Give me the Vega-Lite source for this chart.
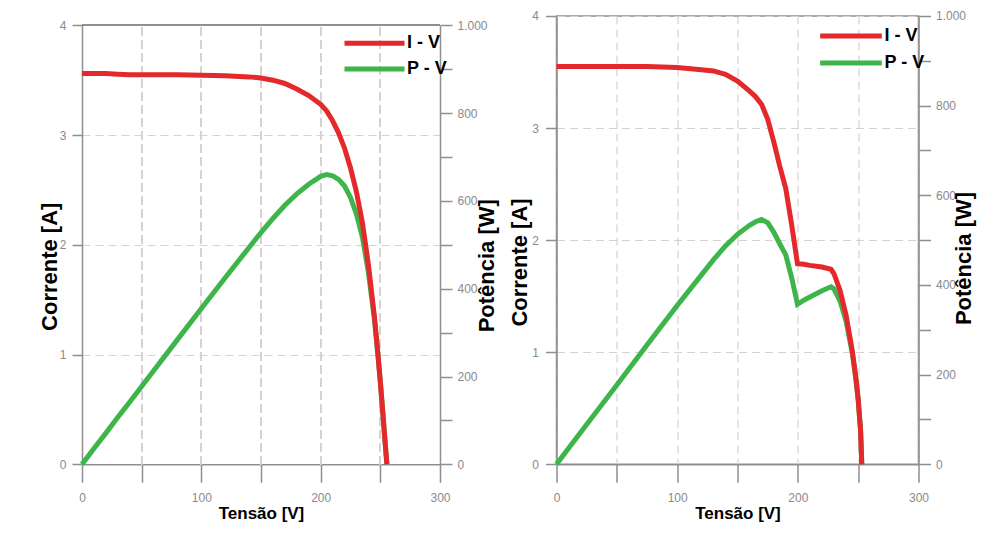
{
  "$schema": "https://vega.github.io/schema/vega-lite/v6.json",
  "background": "white",
  "padding": {"left": 38, "top": 9, "right": 5, "bottom": 0},
  "spacing": 9.5,
  "config": {
    "view": {"stroke": "#8f8f8f", "strokeWidth": 1.5},
    "axis": {
      "domainColor": "#8f8f8f", "domainWidth": 1.5,
      "tickColor": "#8f8f8f", "tickWidth": 1.5,
      "labelFont": "Liberation Sans, Arial, sans-serif",
      "labelFontSize": 12, "labelColor": "#8a8a8a",
      "labelFlush": false, "labelOverlap": false,
      "titleColor": "black", "titleFontWeight": "bold",
      "gridColor": "#d9d0d0", "gridDash": [8, 5], "gridWidth": 1.2
    }
  },
  "resolve": {"scale": {"color": "independent"}, "legend": {"color": "independent"}},
  "datasets": {
    "left": [
      {"V": 0, "I": 3.56, "P": 0},
      {"V": 10, "I": 3.56, "P": 36},
      {"V": 20, "I": 3.56, "P": 71},
      {"V": 30, "I": 3.555, "P": 107},
      {"V": 40, "I": 3.55, "P": 142},
      {"V": 60, "I": 3.55, "P": 213},
      {"V": 80, "I": 3.55, "P": 284},
      {"V": 100, "I": 3.545, "P": 355},
      {"V": 120, "I": 3.54, "P": 425},
      {"V": 140, "I": 3.53, "P": 494},
      {"V": 150, "I": 3.52, "P": 528},
      {"V": 160, "I": 3.5, "P": 560},
      {"V": 170, "I": 3.47, "P": 590},
      {"V": 180, "I": 3.42, "P": 616},
      {"V": 190, "I": 3.36, "P": 638},
      {"V": 200, "I": 3.28, "P": 656},
      {"V": 205, "I": 3.22, "P": 660},
      {"V": 210, "I": 3.13, "P": 657},
      {"V": 215, "I": 3.02, "P": 649},
      {"V": 220, "I": 2.88, "P": 634},
      {"V": 225, "I": 2.7, "P": 608},
      {"V": 230, "I": 2.48, "P": 570},
      {"V": 235, "I": 2.2, "P": 517},
      {"V": 240, "I": 1.82, "P": 437},
      {"V": 245, "I": 1.35, "P": 331},
      {"V": 248, "I": 1.0, "P": 248},
      {"V": 250, "I": 0.75, "P": 188},
      {"V": 252, "I": 0.48, "P": 121},
      {"V": 254, "I": 0.2, "P": 51},
      {"V": 255.5, "I": 0, "P": 0}
    ],
    "right": [
      {"V": 0, "I": 3.55, "P": 0},
      {"V": 10, "I": 3.55, "P": 36},
      {"V": 25, "I": 3.55, "P": 89},
      {"V": 50, "I": 3.55, "P": 177},
      {"V": 75, "I": 3.55, "P": 266},
      {"V": 100, "I": 3.54, "P": 354},
      {"V": 120, "I": 3.52, "P": 422},
      {"V": 130, "I": 3.51, "P": 456},
      {"V": 140, "I": 3.48, "P": 487},
      {"V": 150, "I": 3.42, "P": 513},
      {"V": 160, "I": 3.33, "P": 533},
      {"V": 165, "I": 3.28, "P": 541},
      {"V": 170, "I": 3.21, "P": 546},
      {"V": 175, "I": 3.08, "P": 539},
      {"V": 180, "I": 2.88, "P": 518},
      {"V": 185, "I": 2.66, "P": 492},
      {"V": 190, "I": 2.46, "P": 467},
      {"V": 195, "I": 2.13, "P": 415},
      {"V": 199.7, "I": 1.79, "P": 357},
      {"V": 205, "I": 1.785, "P": 366},
      {"V": 210, "I": 1.775, "P": 373},
      {"V": 220, "I": 1.76, "P": 387},
      {"V": 227.5, "I": 1.74, "P": 396},
      {"V": 230, "I": 1.7, "P": 391},
      {"V": 235, "I": 1.55, "P": 364},
      {"V": 240, "I": 1.33, "P": 319},
      {"V": 245, "I": 1.02, "P": 250},
      {"V": 248, "I": 0.78, "P": 193},
      {"V": 250, "I": 0.58, "P": 145},
      {"V": 252, "I": 0.3, "P": 76},
      {"V": 253, "I": 0, "P": 0}
    ]
  },
  "hconcat": [
    {
      "width": 358, "height": 448.3,
      "view": {"stroke": null},
      "data": {"name": "left"},
      "layer": [
        {"mark": {"type": "rule", "color": "#d9d0d0", "strokeDash": [8, 5], "strokeWidth": 1.2},
         "encoding": {"x": {"datum": 50, "type": "quantitative", "scale": {"domain": [0, 300]}},
           "y": {"datum": 0, "type": "quantitative", "scale": {"domain": [0, 4], "range": [448.3, 9.3]}, "axis": null}, "y2": {"datum": 4}}},
        {"mark": {"type": "rule", "color": "#d9d0d0", "strokeDash": [8, 5], "strokeWidth": 1.2},
         "encoding": {"x": {"datum": 100, "type": "quantitative"},
           "y": {"datum": 0, "type": "quantitative", "scale": {"domain": [0, 4], "range": [448.3, 9.3]}, "axis": null}, "y2": {"datum": 4}}},
        {"mark": {"type": "rule", "color": "#d9d0d0", "strokeDash": [8, 5], "strokeWidth": 1.2},
         "encoding": {"x": {"datum": 150, "type": "quantitative"},
           "y": {"datum": 0, "type": "quantitative", "scale": {"domain": [0, 4], "range": [448.3, 9.3]}, "axis": null}, "y2": {"datum": 4}}},
        {"mark": {"type": "rule", "color": "#d9d0d0", "strokeDash": [8, 5], "strokeWidth": 1.2},
         "encoding": {"x": {"datum": 200, "type": "quantitative"},
           "y": {"datum": 0, "type": "quantitative", "scale": {"domain": [0, 4], "range": [448.3, 9.3]}, "axis": null}, "y2": {"datum": 4}}},
        {"mark": {"type": "rule", "color": "#d9d0d0", "strokeDash": [8, 5], "strokeWidth": 1.2},
         "encoding": {"x": {"datum": 250, "type": "quantitative"},
           "y": {"datum": 0, "type": "quantitative", "scale": {"domain": [0, 4], "range": [448.3, 9.3]}, "axis": null}, "y2": {"datum": 4}}},
        {"mark": {"type": "rule", "color": "#8f8f8f", "strokeWidth": 1.5},
         "encoding": {"x": {"datum": 0, "type": "quantitative"}, "x2": {"datum": 300},
           "y": {"datum": 4, "type": "quantitative", "scale": {"domain": [0, 4], "range": [448.3, 9.3]}, "axis": null}}},
        {
          "mark": {"type": "line", "strokeWidth": 5},
          "encoding": {
            "x": {"field": "V", "type": "quantitative",
              "axis": {"title": "Tensão [V]", "values": [0, 50, 100, 150, 200, 250, 300],
                "labelExpr": "datum.value % 100 === 0 ? datum.label : ''",
                "tickSize": 18, "labelPadding": 10, "grid": false,
                "titleFont": "Liberation Sans, Arial, sans-serif", "titleFontSize": 17, "titlePadding": 2}},
            "y": {"field": "P", "type": "quantitative", "scale": {"domain": [0, 1000], "range": [448.3, 9.3]},
              "axis": {"orient": "right", "title": "Potência [W]", "values": [0, 100, 200, 300, 400, 500, 600, 700, 800, 900, 1000],
                "labelExpr": "datum.value === 1000 ? '1.000' : (datum.value % 200 === 0 ? datum.label : '')",
                "tickSize": 12, "labelPadding": 5, "grid": false,
                "titleFont": "Liberation Sans, Arial, sans-serif", "titleFontSize": 22,
                "titleAngle": 270, "titleX": 47, "titleY": 249.3, "titleBaseline": "middle", "titleAlign": "center"}},
            "color": {"datum": "P - V", "type": "nominal",
              "scale": {"domain": ["I - V", "P - V"], "range": ["#e3292b", "#3db54a"]},
              "legend": {"orient": "none", "legendX": 260, "legendY": 18.3, "title": null,
                "symbolType": "stroke", "symbolSize": 3600, "symbolStrokeWidth": 5, "clipHeight": 18,
                "labelFont": "Liberation Sans, Arial, sans-serif", "labelFontWeight": "bold", "labelFontSize": 18,
                "labelColor": "black", "rowPadding": 7.6, "labelOffset": 0, "padding": 0, "symbolOffset": 0}}
          }
        },
        {
          "mark": {"type": "line", "strokeWidth": 5},
          "encoding": {
            "x": {"field": "V", "type": "quantitative"},
            "y": {"field": "I", "type": "quantitative", "scale": {"domain": [0, 4], "range": [448.3, 9.3]},
              "axis": {"orient": "left", "title": "Corrente [A]", "values": [0, 0.5, 1, 1.5, 2, 2.5, 3, 3.5, 4],
                "format": "d",
                "labelExpr": "datum.value % 1 === 0 ? datum.label : ''",
                "tickSize": 10, "labelPadding": 6, "grid": true,
                "titleFont": "Liberation Sans, Arial, sans-serif", "titleFontSize": 22,
                "titleAngle": 270, "titleX": -33, "titleY": 250.3, "titleBaseline": "middle", "titleAlign": "center"}},
            "color": {"datum": "I - V", "type": "nominal"}
          }
        }
      ],
      "resolve": {"scale": {"y": "independent"}}
    },
    {
      "width": 362, "height": 448.3,
      "data": {"name": "right"},
      "layer": [
        {
          "mark": {"type": "line", "strokeWidth": 5},
          "encoding": {
            "x": {"field": "V", "type": "quantitative", "scale": {"domain": [0, 300]},
              "axis": {"title": "Tensão [V]", "values": [0, 50, 100, 150, 200, 250, 300],
                "labelExpr": "datum.value % 100 === 0 ? datum.label : ''",
                "tickSize": 18, "labelPadding": 10, "grid": true,
                "titleFont": "Liberation Sans, Arial, sans-serif", "titleFontSize": 17, "titlePadding": 2}},
            "y": {"field": "P", "type": "quantitative", "scale": {"domain": [0, 1000]},
              "axis": {"orient": "right", "title": "Potência [W]", "values": [0, 100, 200, 300, 400, 500, 600, 700, 800, 900, 1000],
                "labelExpr": "datum.value === 1000 ? '1.000' : (datum.value % 200 === 0 ? datum.label : '')",
                "tickSize": 12, "labelPadding": 5, "grid": false,
                "titleFont": "Liberation Sans, Arial, sans-serif", "titleFontSize": 22,
                "titleAngle": 270, "titleX": 45.5, "titleY": 242, "titleBaseline": "middle", "titleAlign": "center"}},
            "color": {"datum": "P - V", "type": "nominal",
              "scale": {"domain": ["I - V", "P - V"], "range": ["#e3292b", "#3db54a"]},
              "legend": {"orient": "none", "legendX": 261, "legendY": 11, "title": null,
                "symbolType": "stroke", "symbolSize": 3800, "symbolStrokeWidth": 5, "clipHeight": 18,
                "labelFont": "Liberation Sans, Arial, sans-serif", "labelFontWeight": "bold", "labelFontSize": 18,
                "labelColor": "black", "rowPadding": 9, "labelOffset": 0, "padding": 0, "symbolOffset": 0}}
          }
        },
        {
          "mark": {"type": "line", "strokeWidth": 5},
          "encoding": {
            "x": {"field": "V", "type": "quantitative"},
            "y": {"field": "I", "type": "quantitative", "scale": {"domain": [0, 4]},
              "axis": {"orient": "left", "title": "Corrente [A]", "values": [0, 0.5, 1, 1.5, 2, 2.5, 3, 3.5, 4],
                "format": "d",
                "labelExpr": "datum.value % 1 === 0 ? datum.label : ''",
                "tickSize": 11, "labelPadding": 7, "grid": true,
                "titleFont": "Liberation Sans, Arial, sans-serif", "titleFontSize": 22,
                "titleAngle": 270, "titleX": -37, "titleY": 246, "titleBaseline": "middle", "titleAlign": "center"}},
            "color": {"datum": "I - V", "type": "nominal"}
          }
        }
      ],
      "resolve": {"scale": {"y": "independent"}}
    }
  ]
}
